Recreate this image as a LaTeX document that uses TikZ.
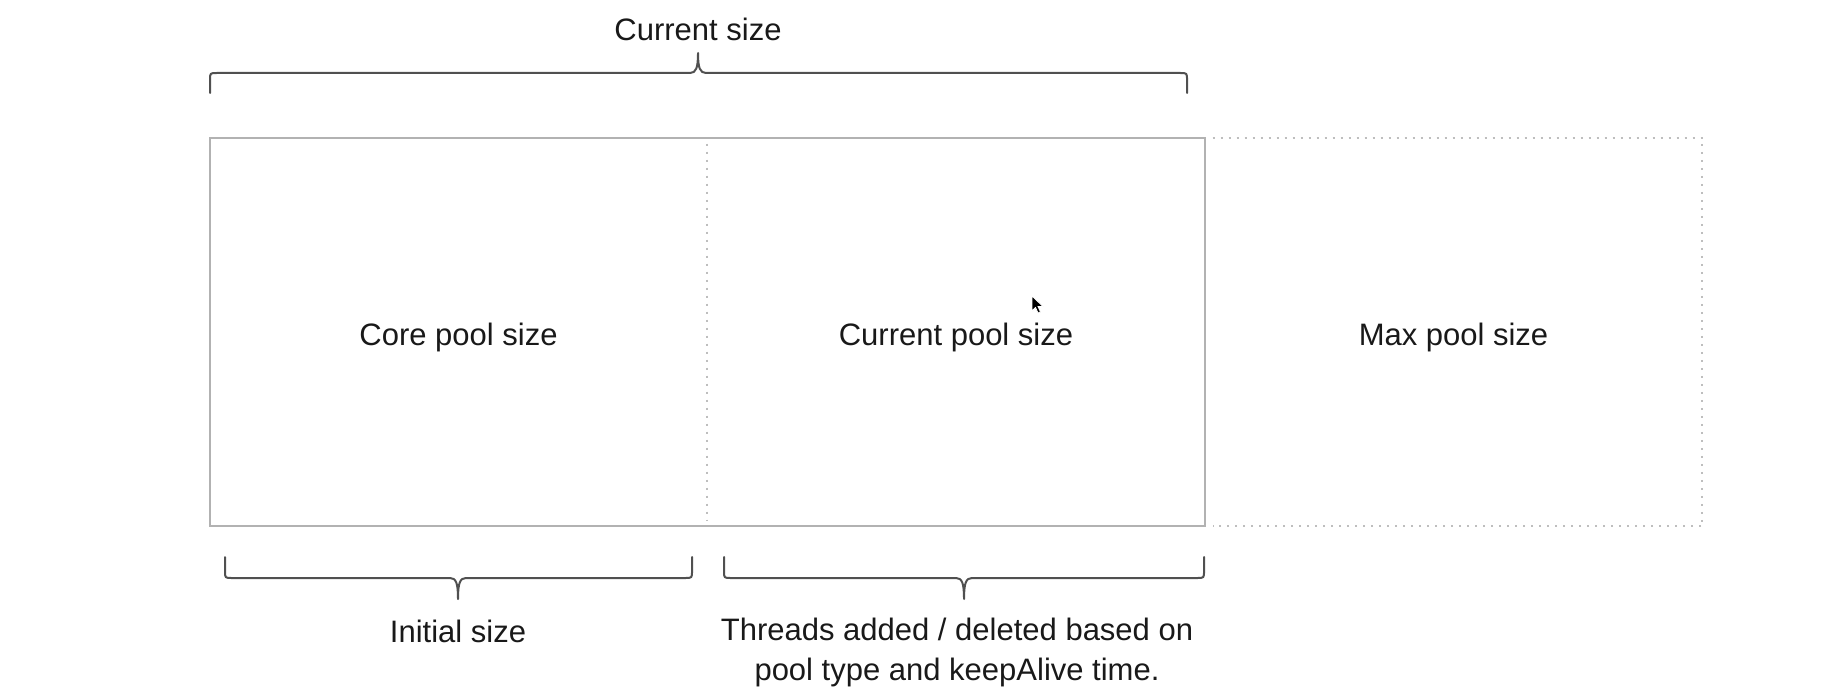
\documentclass[tikz,border=0pt]{standalone}
\usepackage{fontspec}
\setmainfont{Liberation Sans}
\definecolor{boxgray}{RGB}{178,178,178}
\definecolor{dotgray}{RGB}{190,190,190}
\definecolor{bracegray}{RGB}{80,80,80}
\definecolor{inktext}{RGB}{25,25,25}
\begin{document}
\begin{tikzpicture}[x=0.5pt,y=-0.5pt,
  txt/.style={text=inktext, font=\fontsize{15.5}{20}\selectfont, inner sep=0pt, align=center},
  region/.style={minimum width=#1, minimum height=194pt, inner sep=0pt},
  solidframe/.style={draw=boxgray, line width=1pt},
  dotframe/.style={draw=dotgray, line width=1pt, dash pattern=on 1pt off 3pt},
  bracestroke/.style={draw=bracegray, line width=1pt, line cap=round, line join=round}]
  \useasboundingbox (0,0) rectangle (1829,700);

  % the three regions of the pool
  \node[region=248.5pt] (core)    at (458.5,332) {};
  \node[region=249pt]   (current) at (956,332)   {};
  \node[region=248.5pt] (max)     at (1453.5,332) {};
  \node[txt] (corelbl)    at ([yshift=-2.5pt]core.center)    {Core pool size};
  \node[txt] (currentlbl) at ([yshift=-2.5pt]current.center) {Current pool size};
  \node[txt] (maxlbl)     at ([yshift=-2.5pt]max.center)     {Max pool size};

  \draw[solidframe] (core.north west) rectangle (current.south east);
  \draw[dotframe] ([yshift=-3pt]core.north east) -- ([yshift=3pt]core.south east);
  \draw[dotframe] ([xshift=4pt]max.north west) -- (max.north east)
                  -- (max.south east) -- ([xshift=4pt]max.south west);

  % brace over the current size
  \draw[bracestroke] (210,93) -- (210,80) .. controls (210,73) .. (217,73)
     -- (690,73) .. controls (696,73) and (698,68) .. (698,53)
     .. controls (698,68) and (700,73) .. (706,73)
     -- (1180,73) .. controls (1187,73) .. (1187,80) -- (1187,93);
  \node[txt] (cursize) at (698,29) {Current size};

  % brace under the core part
  \draw[bracestroke] (225,557) -- (225,571) .. controls (225,578) .. (232,578)
     -- (450,578) .. controls (456,578) and (458,583) .. (458,599)
     .. controls (458,583) and (460,578) .. (466,578)
     -- (685,578) .. controls (692,578) .. (692,571) -- (692,557);
  \node[txt] (initsize) at (458,631) {Initial size};

  % brace under the growing part
  \draw[bracestroke] (724,557) -- (724,571) .. controls (724,578) .. (731,578)
     -- (956,578) .. controls (962,578) and (964,583) .. (964,599)
     .. controls (964,583) and (966,578) .. (972,578)
     -- (1197,578) .. controls (1204,578) .. (1204,571) -- (1204,557);
  \node[txt] (threads) at (957,652) {Threads added / deleted based on\\pool type and keepAlive time.};

  % mouse pointer
  \fill[black, draw=white, line width=0.4pt, shift={(1032,296)}]
    (0,0) -- (0,15) -- (3.5,11.5) -- (6,17) -- (8.5,16) -- (6,10.5) -- (11,10.5) -- cycle;
\end{tikzpicture}
\end{document}
